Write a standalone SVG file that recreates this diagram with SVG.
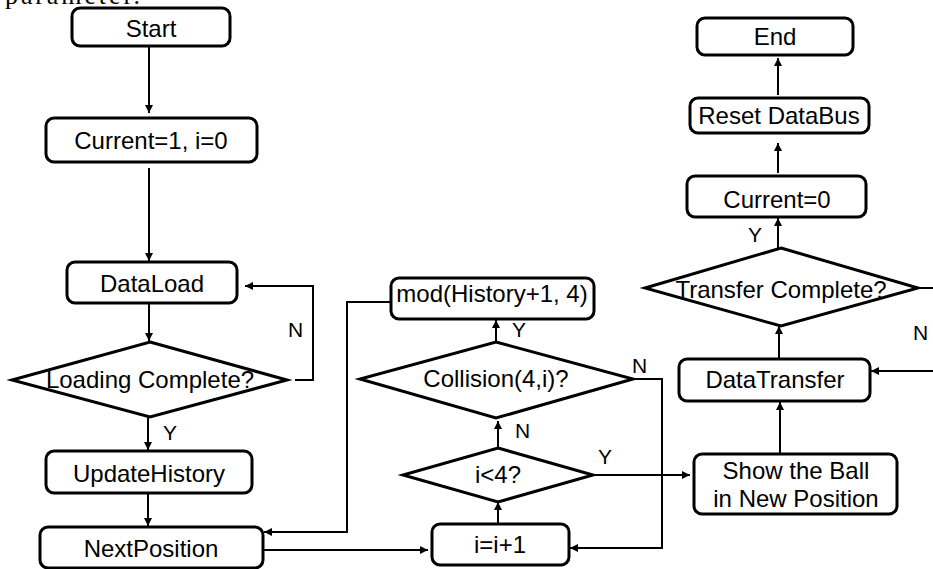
<svg xmlns="http://www.w3.org/2000/svg" width="933" height="569" viewBox="0 0 933 569">
<defs>
<style>
.box{fill:#fff;stroke:#000;stroke-width:3}
.dia{fill:#fff;stroke:#000;stroke-width:3;stroke-linejoin:miter}
.t{font-family:"Liberation Sans",Arial,sans-serif;font-size:24px;fill:#000;text-anchor:middle}
.lb{font-family:"Liberation Sans",Arial,sans-serif;font-size:21px;fill:#000}
.c{fill:none;stroke:#000;stroke-width:2;marker-end:url(#ah)}
.cn{fill:none;stroke:#000;stroke-width:2}
</style>
<marker id="ah" viewBox="0 0 10 10" refX="10" refY="5" markerWidth="10" markerHeight="8" markerUnits="userSpaceOnUse" orient="auto">
<path d="M0,0 L10,5 L0,10 z" fill="#000"/>
</marker>
</defs>
<rect width="933" height="569" fill="#fff"/>
<text x="5" y="4" font-family="'Liberation Serif',serif" font-size="26" textLength="135" lengthAdjust="spacing">parameter.</text>

<g id="connectors">
<path class="c" d="M149,46 V113"/>
<path class="c" d="M149,168 V261"/>
<path class="c" d="M149,303 V341"/>
<path class="c" d="M295,380 H313 V286 H245"/>
<path class="c" d="M148,417 V450"/>
<path class="c" d="M148,493 V526"/>
<path class="c" d="M263,550 H428"/>
<path class="c" d="M391,302 H347 V532 H264"/>
<path class="c" d="M498,524 V502"/>
<path class="c" d="M498,448 V421"/>
<path class="c" d="M496,342 V320"/>
<path class="c" d="M635,379 H662 V548 H570"/>
<path class="c" d="M593,475 H690"/>
<path class="c" d="M780,454 V402"/>
<path class="c" d="M779,359 V326"/>
<path class="c" d="M778,248 V218"/>
<path class="c" d="M778,173 V143"/>
<path class="c" d="M778,95 V58"/>
<path class="cn" d="M918,288 H933"/>
<path class="c" d="M933,371 H871"/>
</g>

<g id="start"><rect class="box" x="72" y="8" width="158" height="38" rx="8"/><text class="t" x="151" y="37">Start</text></g>
<g id="init"><rect class="box" x="46" y="118" width="211" height="44" rx="8"/><text class="t" x="151" y="149">Current=1, i=0</text></g>
<g id="dataload"><rect class="box" x="67" y="262" width="170" height="41" rx="8"/><text class="t" x="152" y="292">DataLoad</text></g>
<g id="loading"><polygon class="dia" points="150,342 287,380 150,417 12,380"/><text class="t" x="150" y="388">Loading Complete?</text></g>
<g id="update"><rect class="box" x="46" y="451" width="206" height="42" rx="8"/><text class="t" x="149" y="482">UpdateHistory</text></g>
<g id="next"><rect class="box" x="40" y="527" width="223" height="41" rx="8"/><text class="t" x="151" y="557">NextPosition</text></g>
<g id="mod"><rect class="box" x="391" y="278" width="203" height="41" rx="8"/><text class="t" x="492" y="302">mod(History+1, 4)</text></g>
<g id="collision"><polygon class="dia" points="496,342 633,379 496,418 360,379"/><text class="t" x="496" y="387">Collision(4,i)?</text></g>
<g id="ilt4"><polygon class="dia" points="498,448 593,475 498,502 403,475"/><text class="t" x="498" y="483">i&lt;4?</text></g>
<g id="inc"><rect class="box" x="432" y="524" width="137" height="41" rx="8"/><text class="t" x="500" y="553">i=i+1</text></g>
<g id="show"><rect class="box" x="694" y="454" width="203" height="60" rx="8"/><text class="t" x="796" y="479">Show the Ball</text><text class="t" x="796" y="507">in New Position</text></g>
<g id="transfer"><rect class="box" x="679" y="359" width="191" height="42" rx="8"/><text class="t" x="775" y="388">DataTransfer</text></g>
<g id="tcomplete"><polygon class="dia" points="781,248 918,288 781,326 645,288"/><text class="t" x="781" y="298">Transfer Complete?</text></g>
<g id="current0"><rect class="box" x="687" y="176" width="179" height="41" rx="8"/><text class="t" x="777" y="208">Current=0</text></g>
<g id="reset"><rect class="box" x="690" y="98" width="179" height="35" rx="8"/><text class="t" x="779" y="124">Reset DataBus</text></g>
<g id="end"><rect class="box" x="697" y="18" width="156" height="37" rx="8"/><text class="t" x="775" y="45">End</text></g>

<g id="labels">
<text class="lb" x="288" y="337">N</text>
<text class="lb" x="163" y="440">Y</text>
<text class="lb" x="512" y="337">Y</text>
<text class="lb" x="632" y="373">N</text>
<text class="lb" x="515" y="438">N</text>
<text class="lb" x="598" y="464">Y</text>
<text class="lb" x="748" y="242">Y</text>
<text class="lb" x="913" y="340">N</text>
</g>
</svg>
